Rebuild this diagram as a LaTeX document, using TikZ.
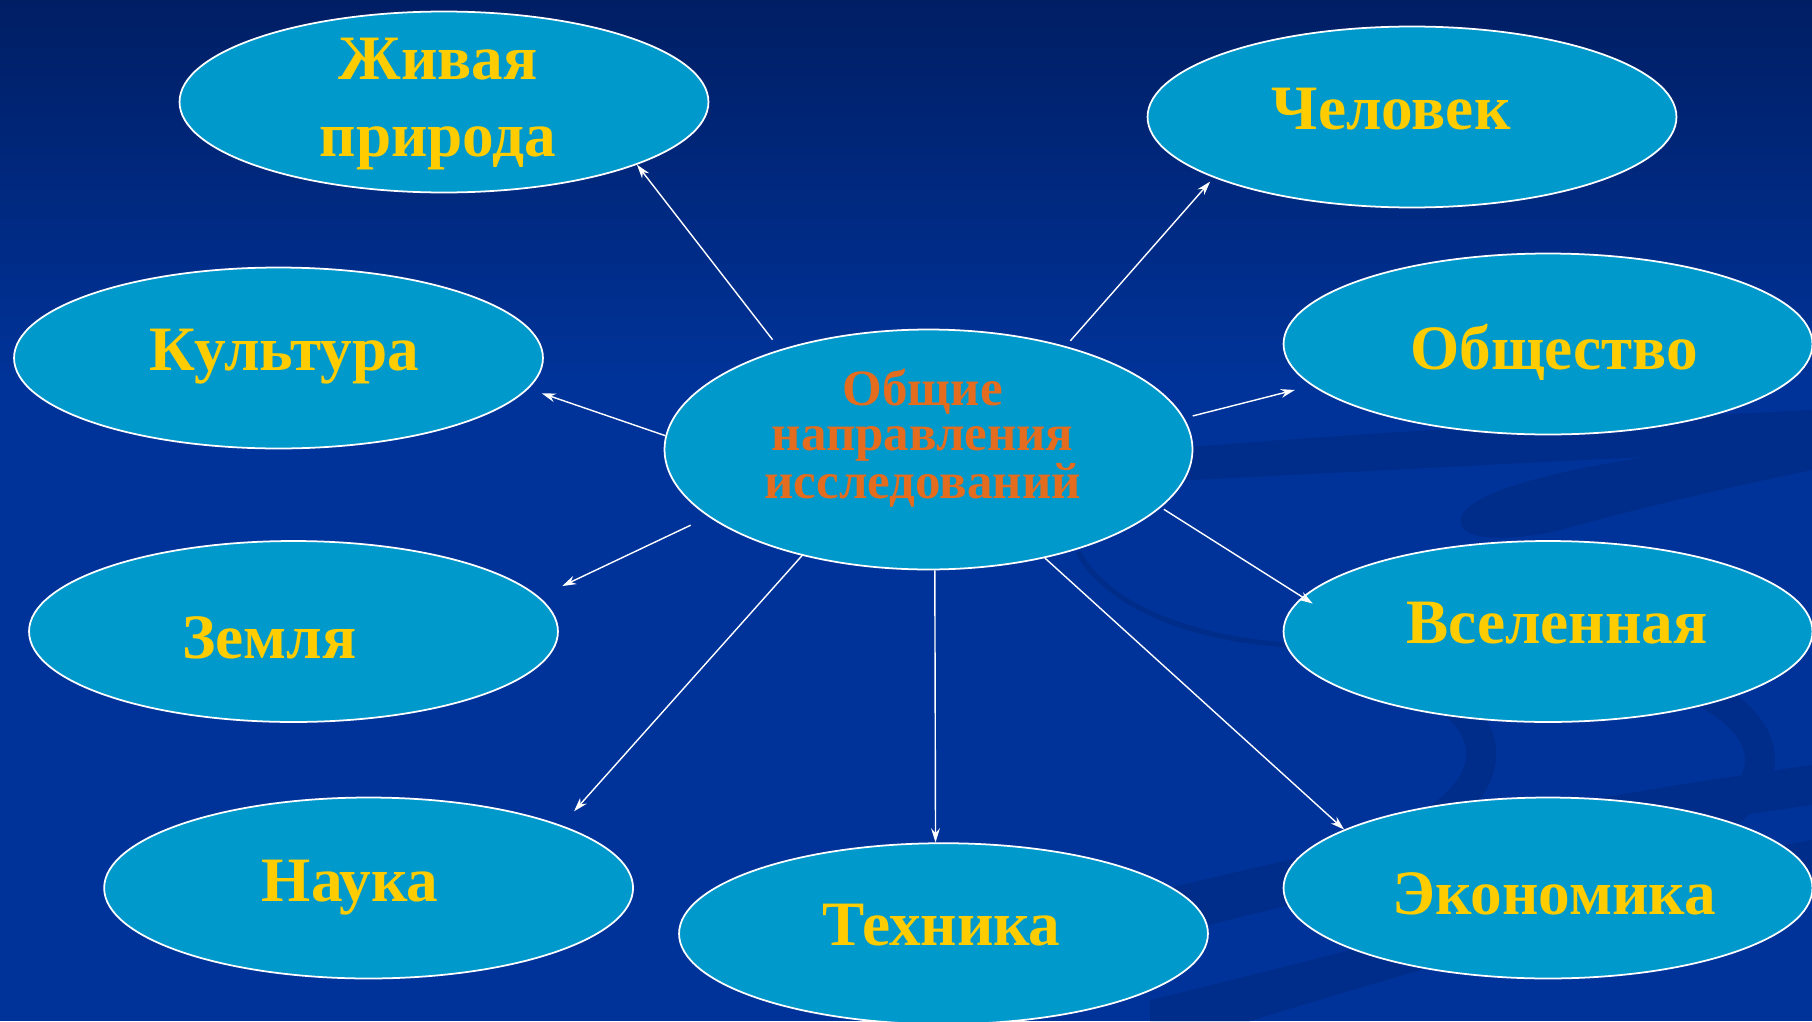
\documentclass[tikz,border=0pt]{standalone}
\usepackage{fontspec}
\setmainfont{Liberation Serif}
\usetikzlibrary{shapes.geometric,arrows.meta}

\definecolor{bgtop}{RGB}{0,30,100}
\definecolor{bgblue}{RGB}{0,51,153}
\definecolor{swirl}{RGB}{0,44,138}
\definecolor{oval}{RGB}{0,153,204}
\definecolor{gold}{RGB}{255,204,0}
\definecolor{rust}{RGB}{227,108,30}

\begin{document}
\begin{tikzpicture}[
		x=0.02cm,y=-0.02cm,
		topic/.style={ellipse,draw=white,line width=1pt,fill=oval,
				minimum width=10.58cm,minimum height=3.62cm,inner sep=0pt},
		hub/.style={topic,minimum width=10.56cm,minimum height=4.8cm},
		word/.style={inner sep=0pt,text=gold,align=center,
				font=\fontsize{36}{44}\selectfont\bfseries},
		hubword/.style={inner sep=0pt,text=rust,align=center,
				font=\fontsize{29}{26}\selectfont\bfseries},
		link/.style={draw=white,line width=0.8pt,-{Stealth[length=8pt,width=5pt]}}
	]
	\useasboundingbox (0,0) rectangle (1812,1021);
	% background
	\fill[bgblue] (0,0) rectangle (1812,1021);
	\shade[top color=bgtop,bottom color=bgblue] (0,0) rectangle (1812,380);
	\fill[swirl] (1150,450) .. controls (1400,430) and (1600,420) .. (1812,410)
		-- (1812,450) .. controls (1600,458) and (1400,470) .. (1150,482) -- cycle;
	\fill[swirl] (1812,440) .. controls (1650,450) and (1480,480) .. (1462,515)
		.. controls (1450,545) and (1520,540) .. (1560,530)
		.. controls (1650,505) and (1740,485) .. (1812,470) -- cycle;
	\draw[swirl,line width=3pt] (1078,552) .. controls (1110,610) and (1200,640) .. (1290,645);
	\draw[swirl,line width=17pt] (1450,700) .. controls (1500,740) and (1490,790) .. (1420,830);
	\draw[swirl,line width=17pt] (1700,690) .. controls (1780,730) and (1780,790) .. (1700,830);
	\fill[swirl] (1100,905) .. controls (1400,830) and (1600,795) .. (1812,765)
		-- (1812,805) .. controls (1600,835) and (1400,875) .. (1130,945) -- cycle;
	\fill[swirl] (1150,1000) .. controls (1400,940) and (1600,880) .. (1812,840)
		-- (1812,875) .. controls (1600,915) and (1400,975) .. (1250,1021) -- (1150,1021) -- cycle;

	% ovals
	\node[hub] (hub) at (928.5,449.5) {};
	\node[topic] (zhiv) at (444,102) {};
	\node[topic] (chel) at (1412,117) {};
	\node[topic] (kult) at (278.5,358) {};
	\node[topic] (obsh) at (1548,344) {};
	\node[topic] (zeml) at (293.5,631.5) {};
	\node[topic] (vsel) at (1548,631.5) {};
	\node[topic] (nauk) at (368.6,888) {};
	\node[topic] (tekh) at (943.5,933.7) {};
	\node[topic] (ekon) at (1548,888) {};

	% texts
	\node[hubword] (hub-t) at (922.7,438) {Общие\\направления\\исследований};
	\node[word] (zhiv-t) at (438,104) {Живая\\природа};
	\node[word] (chel-t) at (1391,109) {Человек};
	\node[word] (kult-t) at (284.5,357) {Культура};
	\node[word] (obsh-t) at (1554,352) {Общество};
	\node[word] (zeml-t) at (269.5,637.5) {Земля};
	\node[word] (vsel-t) at (1557,623.5) {Вселенная};
	\node[word] (nauk-t) at (350,888) {Наука};
	\node[word] (tekh-t) at (941.5,924.7) {Техника};
	\node[word] (ekon-t) at (1554,894) {Экономика};

	% links
	\draw[link,shorten <=7pt] (hub.146) -- (zhiv.342);
	\draw[link,shorten <=4pt,shorten >=3pt] (hub.37) -- (chel.197);
	\draw[link,shorten >=8pt] (hub.177) -- (kult.353);
	\draw[link,shorten <=5pt,shorten >=10pt] (hub.7) -- (obsh.190);
	\draw[link,shorten <=11.2pt,shorten >=14.5pt] (hub.197.4) -- (zeml.8.6);
	\draw[link,shorten <=2pt,shorten >=-7pt] (hub.346) -- (vsel.172);
	\draw[link,shorten >=10.7pt] (hub.220) -- (nauk.18);
	\draw[link] (hub.273.2) -- (tekh.95);
	\draw[link] (hub.317) -- (ekon.164);
\end{tikzpicture}
\end{document}
